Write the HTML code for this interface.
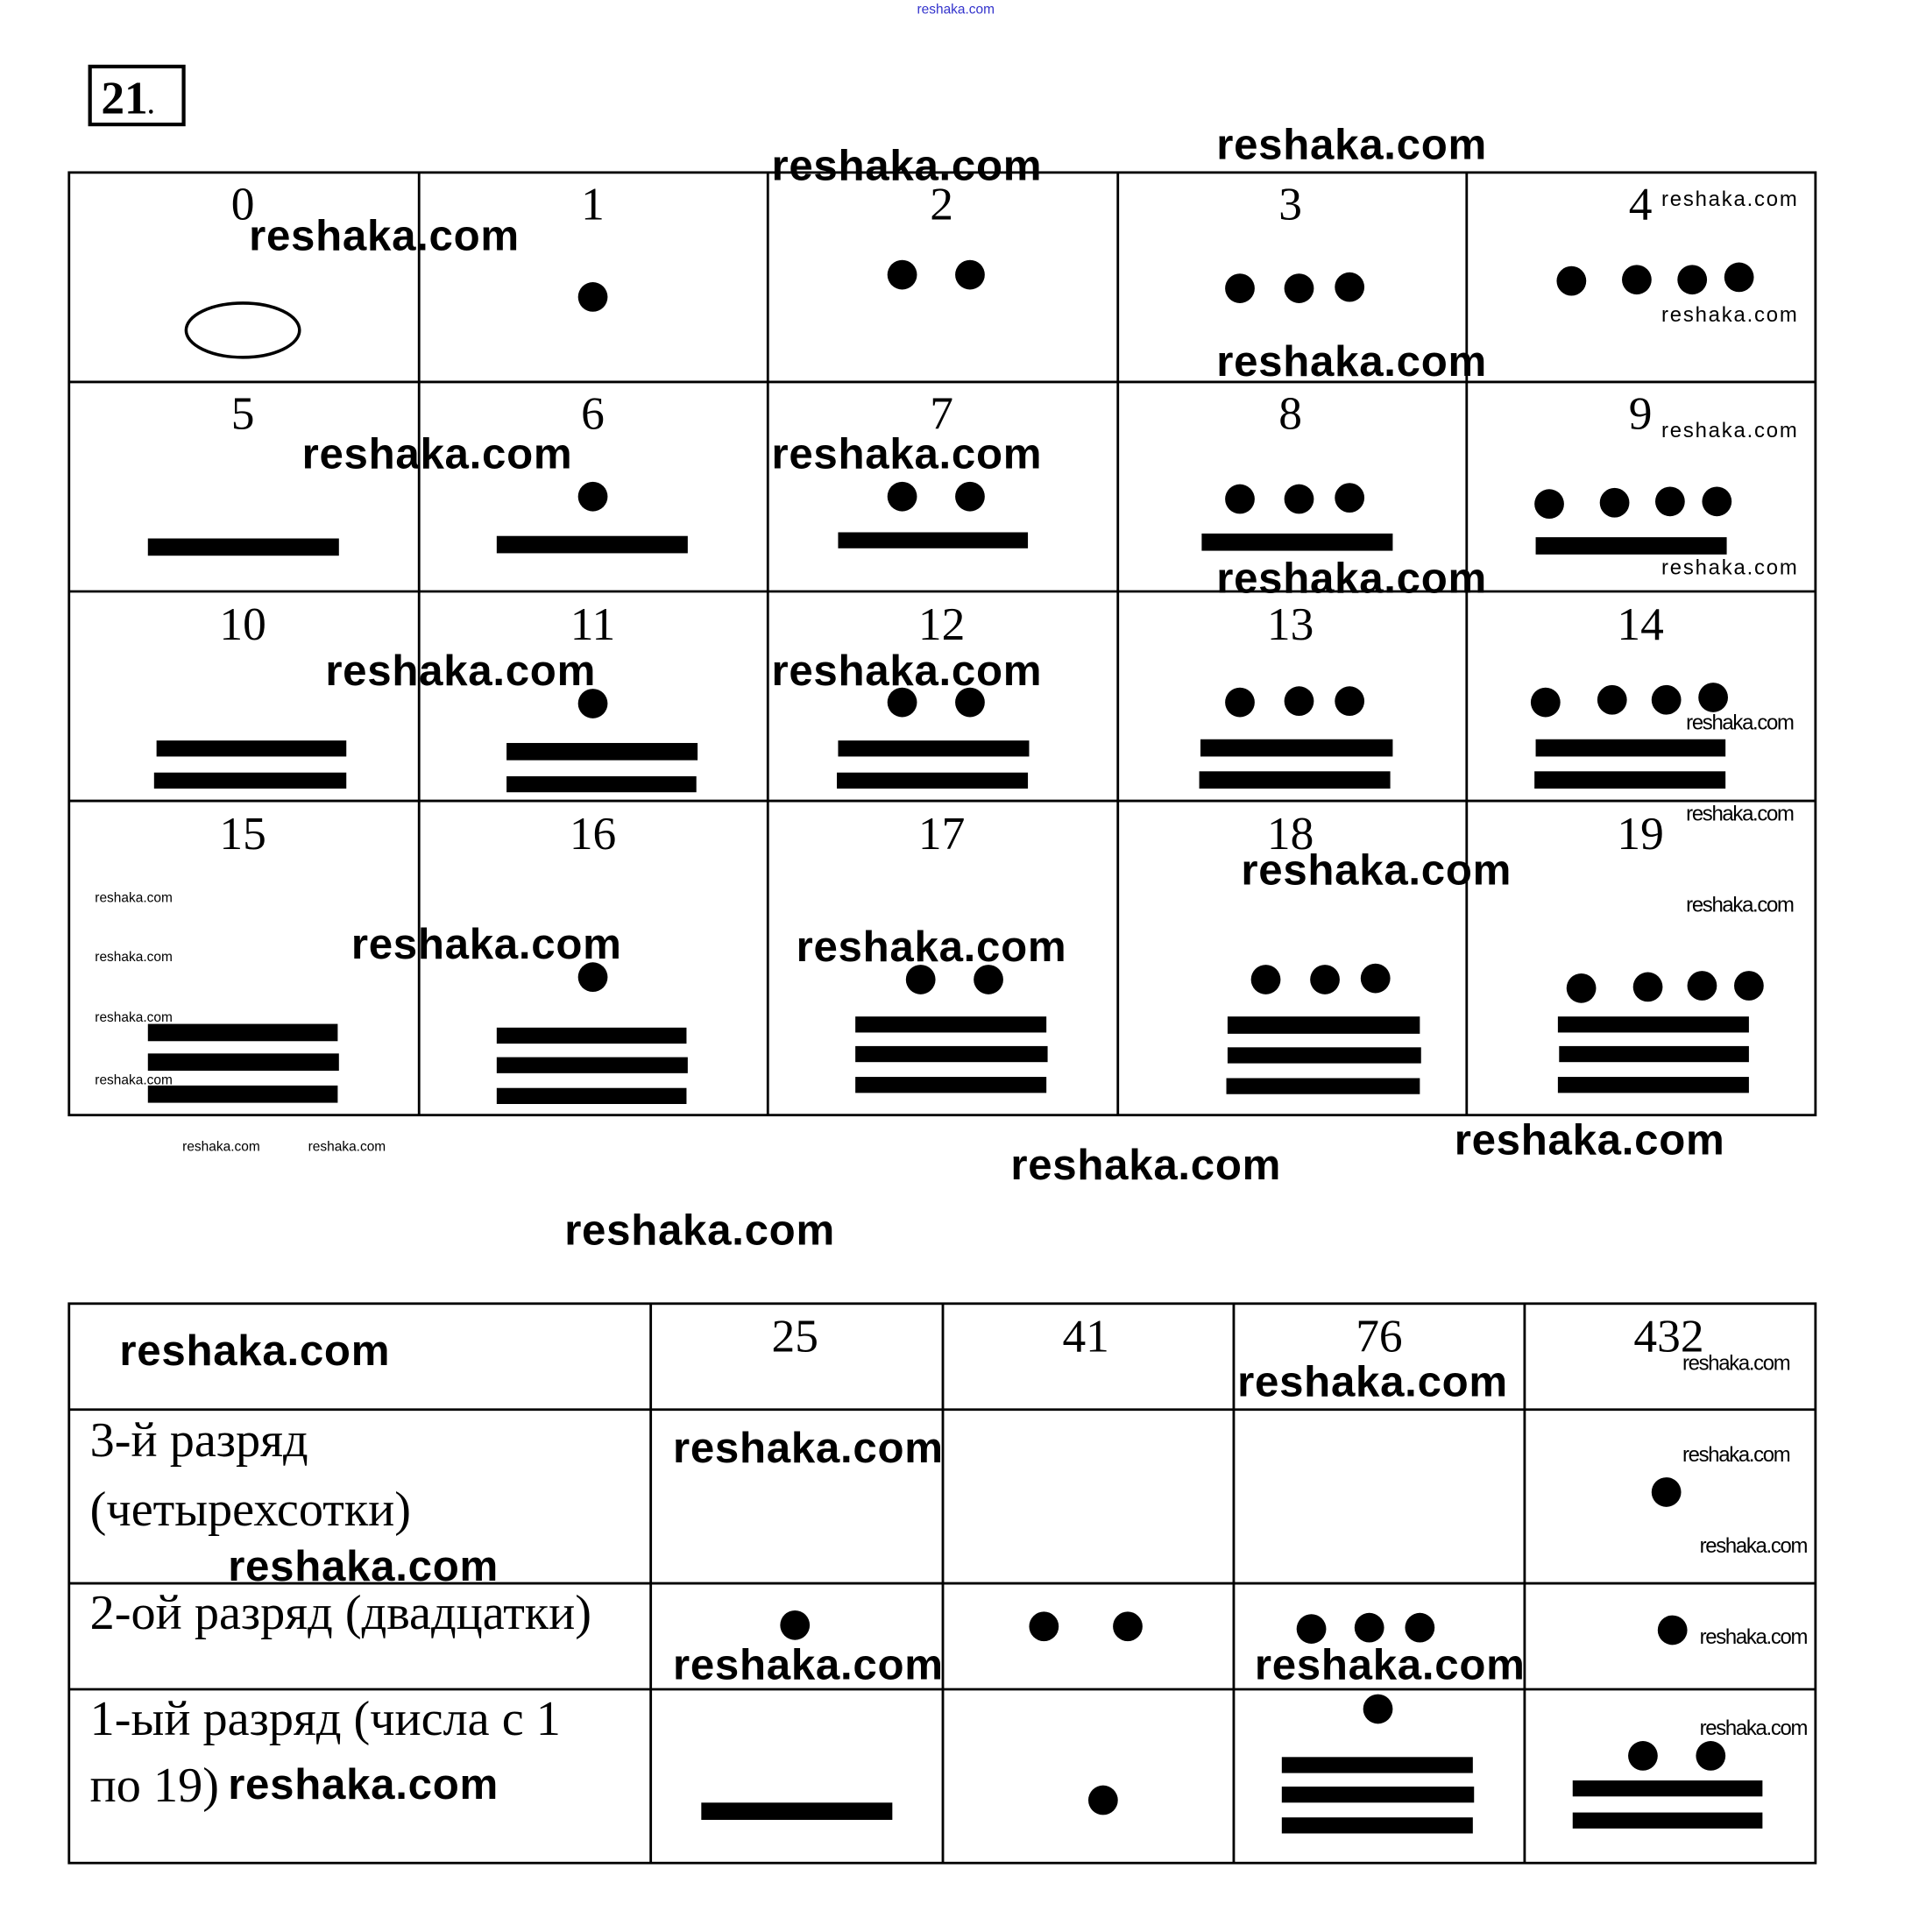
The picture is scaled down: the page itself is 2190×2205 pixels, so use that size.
<!DOCTYPE html>
<html><head><meta charset="utf-8"><style>
html,body{margin:0;padding:0;background:#fff;}
svg{display:block;}
.n{font-family:"Liberation Serif",serif;font-size:38px;fill:#000;text-anchor:middle;}
.l{font-family:"Liberation Serif",serif;font-size:40px;fill:#000;}
.w{font-family:"Liberation Sans",sans-serif;font-size:35px;fill:#000;font-weight:bold;}
.s{font-family:"Liberation Sans",sans-serif;font-size:17px;fill:#000;}
.t{font-family:"Liberation Sans",sans-serif;font-size:11px;fill:#000;}
</style></head><body>
<svg width="2190" height="2205" viewBox="0 0 1557 1568" preserveAspectRatio="none" xmlns="http://www.w3.org/2000/svg">
<rect width="1557" height="1568" fill="#fff"/>
<text x="744" y="11" font-family="Liberation Sans,sans-serif" font-size="11" fill="#33c">reshaka.com</text>
<rect x="73" y="54" width="76" height="47" fill="none" stroke="#000" stroke-width="3"/>
<text x="82" y="92" font-family="Liberation Serif,serif" font-size="38" font-weight="bold">21<tspan font-size="20">.</tspan></text>
<g stroke="#000" stroke-width="2" fill="none">
<rect x="56" y="140" width="1417" height="765"/>
<line x1="340" y1="140" x2="340" y2="905"/><line x1="623" y1="140" x2="623" y2="905"/>
<line x1="907" y1="140" x2="907" y2="905"/><line x1="1190" y1="140" x2="1190" y2="905"/>
<line x1="56" y1="310" x2="1473" y2="310"/><line x1="56" y1="480" x2="1473" y2="480"/><line x1="56" y1="650" x2="1473" y2="650"/>
<rect x="56" y="1058" width="1417" height="454"/>
<line x1="528" y1="1058" x2="528" y2="1512"/><line x1="765" y1="1058" x2="765" y2="1512"/>
<line x1="1001" y1="1058" x2="1001" y2="1512"/><line x1="1237" y1="1058" x2="1237" y2="1512"/>
<line x1="56" y1="1144" x2="1473" y2="1144"/><line x1="56" y1="1285" x2="1473" y2="1285"/><line x1="56" y1="1371" x2="1473" y2="1371"/>
<ellipse cx="197" cy="268" rx="46" ry="22" stroke-width="2.5"/>
</g>
<g>
<text class="n" x="197" y="178">0</text><text class="n" x="481" y="178">1</text><text class="n" x="764" y="178">2</text><text class="n" x="1047" y="178">3</text><text class="n" x="1331" y="178">4</text>
<text class="n" x="197" y="348">5</text><text class="n" x="481" y="348">6</text><text class="n" x="764" y="348">7</text><text class="n" x="1047" y="348">8</text><text class="n" x="1331" y="348">9</text>
<text class="n" x="197" y="519">10</text><text class="n" x="481" y="519">11</text><text class="n" x="764" y="519">12</text><text class="n" x="1047" y="519">13</text><text class="n" x="1331" y="519">14</text>
<text class="n" x="197" y="689">15</text><text class="n" x="481" y="689">16</text><text class="n" x="764" y="689">17</text><text class="n" x="1047" y="689">18</text><text class="n" x="1331" y="689">19</text>
<text class="n" x="645" y="1097">25</text><text class="n" x="881" y="1097">41</text><text class="n" x="1119" y="1097">76</text><text class="n" x="1354" y="1097">432</text>
<text class="l" x="73" y="1182">3-й разряд</text><text class="l" x="73" y="1238">(четырехсотки)</text>
<text class="l" x="73" y="1322">2-ой разряд (двадцатки)</text>
<text class="l" x="73" y="1408">1-ый разряд (числа с 1</text><text class="l" x="73" y="1462">по 19)</text>
</g>
<g fill="#000">
<circle cx="481" cy="241" r="12"/>
<circle cx="732" cy="223" r="12"/><circle cx="787" cy="223" r="12"/>
<circle cx="1006" cy="234" r="12"/><circle cx="1054" cy="234" r="12"/><circle cx="1095" cy="233" r="12"/>
<circle cx="1275" cy="228" r="12"/><circle cx="1328" cy="227" r="12"/><circle cx="1373" cy="227" r="12"/><circle cx="1411" cy="225" r="12"/>
<rect x="120" y="437" width="155" height="14"/>
<circle cx="481" cy="403" r="12"/><rect x="403" y="435" width="155" height="14"/>
<circle cx="732" cy="403" r="12"/><circle cx="787" cy="403" r="12"/><rect x="680" y="432" width="154" height="13"/>
<circle cx="1006" cy="405" r="12"/><circle cx="1054" cy="405" r="12"/><circle cx="1095" cy="404" r="12"/><rect x="975" y="433" width="155" height="14"/>
<circle cx="1257" cy="409" r="12"/><circle cx="1310" cy="408" r="12"/><circle cx="1355" cy="407" r="12"/><circle cx="1393" cy="407" r="12"/><rect x="1246" y="436" width="155" height="14"/>
<rect x="127" y="601" width="154" height="13"/><rect x="125" y="627" width="156" height="13"/>
<circle cx="481" cy="571" r="12"/><rect x="411" y="603" width="155" height="14"/><rect x="411" y="630" width="154" height="13"/>
<circle cx="732" cy="570" r="12"/><circle cx="787" cy="570" r="12"/><rect x="680" y="601" width="155" height="13"/><rect x="679" y="627" width="155" height="13"/>
<circle cx="1006" cy="570" r="12"/><circle cx="1054" cy="569" r="12"/><circle cx="1095" cy="569" r="12"/><rect x="974" y="600" width="156" height="14"/><rect x="973" y="626" width="155" height="14"/>
<circle cx="1254" cy="570" r="12"/><circle cx="1308" cy="568" r="12"/><circle cx="1352" cy="568" r="12"/><circle cx="1390" cy="566" r="12"/><rect x="1246" y="600" width="154" height="14"/><rect x="1245" y="626" width="155" height="14"/>
<rect x="120" y="831" width="154" height="14"/><rect x="120" y="855" width="155" height="14"/><rect x="120" y="881" width="154" height="14"/>
<circle cx="481" cy="793" r="12"/><rect x="403" y="834" width="154" height="13"/><rect x="403" y="858" width="155" height="13"/><rect x="403" y="883" width="154" height="13"/>
<circle cx="747" cy="795" r="12"/><circle cx="802" cy="795" r="12"/><rect x="694" y="825" width="155" height="13"/><rect x="694" y="849" width="156" height="13"/><rect x="694" y="874" width="155" height="13"/>
<circle cx="1027" cy="795" r="12"/><circle cx="1075" cy="795" r="12"/><circle cx="1116" cy="794" r="12"/><rect x="996" y="825" width="156" height="14"/><rect x="996" y="850" width="157" height="13"/><rect x="995" y="875" width="157" height="13"/>
<circle cx="1283" cy="802" r="12"/><circle cx="1337" cy="801" r="12"/><circle cx="1381" cy="800" r="12"/><circle cx="1419" cy="800" r="12"/><rect x="1264" y="825" width="155" height="13"/><rect x="1265" y="849" width="154" height="13"/><rect x="1264" y="874" width="155" height="13"/>
<circle cx="1352" cy="1211" r="12"/>
<circle cx="645" cy="1319" r="12"/><circle cx="847" cy="1320" r="12"/><circle cx="915" cy="1320" r="12"/>
<circle cx="1064" cy="1322" r="12"/><circle cx="1111" cy="1321" r="12"/><circle cx="1152" cy="1321" r="12"/><circle cx="1357" cy="1323" r="12"/>
<rect x="569" y="1463" width="155" height="14"/><circle cx="895" cy="1461" r="12"/>
<circle cx="1118" cy="1387" r="12"/><rect x="1040" y="1426" width="155" height="13"/><rect x="1040" y="1450" width="156" height="13"/><rect x="1040" y="1475" width="155" height="13"/>
<circle cx="1333" cy="1425" r="12"/><circle cx="1388" cy="1425" r="12"/><rect x="1276" y="1445" width="154" height="13"/><rect x="1276" y="1471" width="154" height="13"/>
</g>
<g>
<text class="w" x="202" y="203" textLength="219">reshaka.com</text>
<text class="w" x="626" y="146" textLength="219">reshaka.com</text>
<text class="w" x="987" y="129" textLength="219">reshaka.com</text>
<text class="w" x="987" y="305" textLength="219">reshaka.com</text>
<text class="w" x="245" y="380" textLength="219">reshaka.com</text>
<text class="w" x="626" y="380" textLength="219">reshaka.com</text>
<text class="w" x="987" y="481" textLength="219">reshaka.com</text>
<text class="w" x="264" y="556" textLength="219">reshaka.com</text>
<text class="w" x="626" y="556" textLength="219">reshaka.com</text>
<text class="w" x="1007" y="718" textLength="219">reshaka.com</text>
<text class="w" x="285" y="778" textLength="219">reshaka.com</text>
<text class="w" x="646" y="780" textLength="219">reshaka.com</text>
<text class="w" x="1180" y="937" textLength="219">reshaka.com</text>
<text class="w" x="820" y="957" textLength="219">reshaka.com</text>
<text class="w" x="458" y="1010" textLength="219">reshaka.com</text>
<text class="w" x="97" y="1108" textLength="219">reshaka.com</text>
<text class="w" x="1004" y="1133" textLength="219">reshaka.com</text>
<text class="w" x="546" y="1187" textLength="219">reshaka.com</text>
<text class="w" x="185" y="1283" textLength="219">reshaka.com</text>
<text class="w" x="546" y="1363" textLength="219">reshaka.com</text>
<text class="w" x="1018" y="1363" textLength="219">reshaka.com</text>
<text class="w" x="185" y="1460" textLength="219">reshaka.com</text>
</g>
<g>
<text class="s" x="1348" y="167" textLength="110">reshaka.com</text>
<text class="s" x="1348" y="261" textLength="110">reshaka.com</text>
<text class="s" x="1348" y="355" textLength="110">reshaka.com</text>
<text class="s" x="1348" y="466" textLength="110">reshaka.com</text>
<text class="s" x="1368" y="592" textLength="88" font-size="15">reshaka.com</text>
<text class="s" x="1368" y="666" textLength="88" font-size="15">reshaka.com</text>
<text class="s" x="1368" y="740" textLength="88" font-size="15">reshaka.com</text>
<text class="s" x="1365" y="1112" textLength="88" font-size="15">reshaka.com</text>
<text class="s" x="1365" y="1186" textLength="88" font-size="15">reshaka.com</text>
<text class="s" x="1379" y="1260" textLength="88" font-size="15">reshaka.com</text>
<text class="s" x="1379" y="1334" textLength="88" font-size="15">reshaka.com</text>
<text class="s" x="1379" y="1408" textLength="88" font-size="15">reshaka.com</text>
<text class="t" x="77" y="732">reshaka.com</text>
<text class="t" x="77" y="780">reshaka.com</text>
<text class="t" x="77" y="829">reshaka.com</text>
<text class="t" x="77" y="880">reshaka.com</text>
<text class="t" x="148" y="934">reshaka.com</text>
<text class="t" x="250" y="934">reshaka.com</text>
</g>
</svg>
</body></html>
